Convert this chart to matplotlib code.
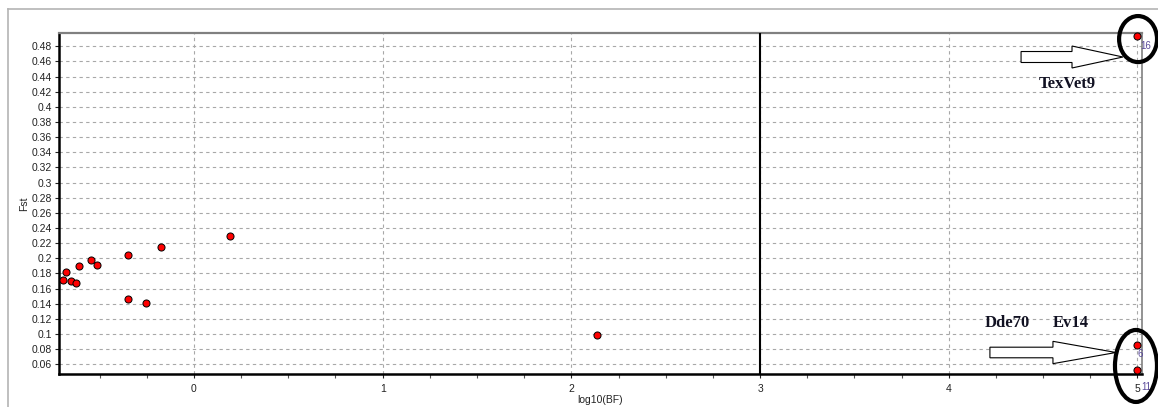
import matplotlib
matplotlib.use("Agg")
import matplotlib.pyplot as plt
import numpy as np
from matplotlib.patches import Ellipse, FancyArrow
from matplotlib.lines import Line2D

plt.rcParams['font.family'] = ['Liberation Sans', 'DejaVu Sans']

# data
log_bf = [-0.693, -0.677, -0.652, -0.625, -0.608, -0.548, -0.514,
          -0.348, -0.348, -0.256, -0.177, 0.193, 2.136, 5.0, 5.0, 5.0]
fst = [0.171, 0.182, 0.170, 0.168, 0.190, 0.198, 0.191,
       0.204, 0.146, 0.141, 0.2146, 0.230, 0.099, 0.4936, 0.0859, 0.052]
point_ids = ['', '', '', '', '', '', '', '', '', '', '', '', '', '16', '6', '11']
y_ticks = [0.06, 0.08, 0.1, 0.12, 0.14, 0.16, 0.18, 0.2, 0.22, 0.24, 0.26,
           0.28, 0.3, 0.32, 0.34, 0.36, 0.38, 0.4, 0.42, 0.44, 0.46, 0.48]
y_tick_labels = ['0.06', '0.08', '0.1', '0.12', '0.14', '0.16', '0.18', '0.2',
                 '0.22', '0.24', '0.26', '0.28', '0.3', '0.32', '0.34', '0.36',
                 '0.38', '0.4', '0.42', '0.44', '0.46', '0.48']
x_ticks = [0, 1, 2, 3, 4, 5]
threshold = 3

fig = plt.figure(figsize=(11.58, 4.07), dpi=100)
ax = fig.add_axes([0.0509, 0.0811, 0.9353, 0.8378])

# light frame round the picture
fig.add_artist(Line2D([8/1158, 1], [1 - 9/407, 1 - 9/407], color='#b4b4b4', lw=1.2,
                      transform=fig.transFigure))
fig.add_artist(Line2D([8/1158, 8/1158], [0, 1 - 9/407], color='#b4b4b4', lw=1.2,
                      transform=fig.transFigure))

ax.set_xlim(-0.7155, 5.024)
ax.set_ylim(0.0472, 0.4976)
ax.set_xticks(x_ticks)
ax.set_xticks(np.arange(-0.5, 5.01, 0.25), minor=True)
ax.set_yticks(y_ticks)
ax.set_yticklabels(y_tick_labels)
ax.tick_params(axis='both', labelsize=7.5, length=3, width=0.8, colors='#222222',
               direction='out', pad=2)
ax.tick_params(axis='x', which='minor', length=3, width=0.8, color='#555555')
ax.tick_params(axis='x', pad=4)
ax.grid(True, which='major', color='#a8a8a8', linestyle=(0, (3, 3)), lw=0.8)
ax.set_axisbelow(True)

ax.spines['left'].set_linewidth(1.8)
ax.spines['left'].set_color('black')
ax.spines['bottom'].set_linewidth(1.8)
ax.spines['bottom'].set_color('black')
ax.spines['top'].set_linewidth(1.6)
ax.spines['top'].set_color('#808080')
ax.spines['right'].set_linewidth(1.2)
ax.spines['right'].set_color('#808080')

ax.set_xlabel('log10(BF)', fontsize=7.5, color='#222222', labelpad=1)
ax.set_ylabel('Fst', fontsize=7.5, color='#222222', labelpad=2)

ax.axvline(threshold, color='black', lw=1.5, zorder=3)

ax.scatter(log_bf, fst, s=26, c='#ff0000', edgecolors='black', linewidths=0.7,
           zorder=5, clip_on=False)

offsets = {'16': (2, -7), '6': (0, -7), '11': (3, -12)}
for x, y, pid in zip(log_bf, fst, point_ids):
    if pid:
        ax.annotate(pid, (x, y), xytext=offsets[pid], textcoords='offset points',
                    fontsize=7, color='#5a4a9a', ha='left', va='center',
                    annotation_clip=False, zorder=6)

# highlight circles and arrows
ax.add_patch(Ellipse((5.003, 0.4896), 0.201, 0.0608, fill=False, ec='black',
                     lw=3, clip_on=False, zorder=7))
ax.add_patch(Ellipse((4.992, 0.0578), 0.2226, 0.0951, fill=False, ec='black',
                     lw=3, clip_on=False, zorder=7))
ax.add_patch(FancyArrow(4.383, 0.4659, 0.54, 0, width=0.0145, head_width=0.029,
                        head_length=0.27, length_includes_head=True,
                        fc='white', ec='black', lw=0.8, zorder=6))
ax.add_patch(FancyArrow(4.218, 0.0756, 0.668, 0, width=0.014, head_width=0.0295,
                        head_length=0.334, length_includes_head=True,
                        fc='white', ec='black', lw=0.8, zorder=6))

serif = dict(family=['Liberation Serif', 'DejaVu Serif'], weight='bold',
             fontsize=12, color='#111122', ha='center', va='center', zorder=6)
ax.text(4.629, 0.4302, 'TexVet9', **serif)
ax.text(4.308, 0.1146, 'Dde70', **serif)
ax.text(4.645, 0.1146, 'Ev14', **serif)

fig.savefig('out.png', dpi=100)
